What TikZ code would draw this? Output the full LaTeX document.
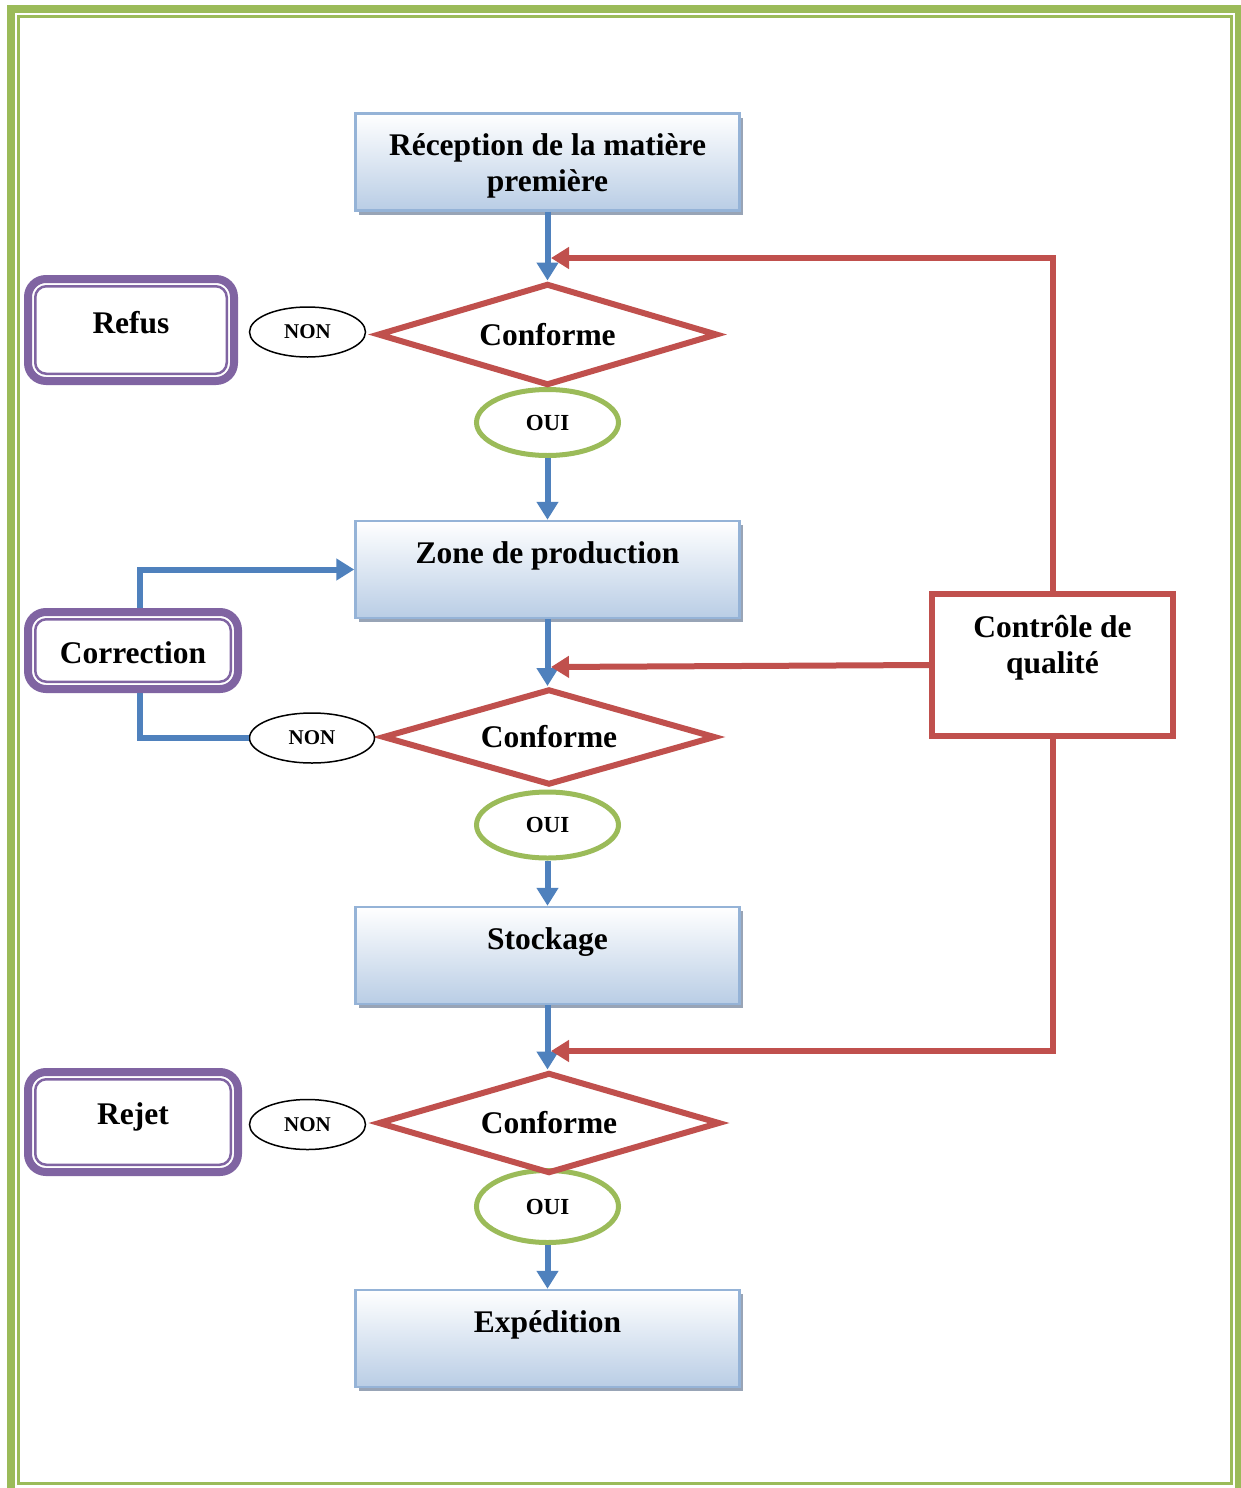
\documentclass[tikz,border=0pt]{standalone}
\usepackage{fontspec}
\setmainfont{Liberation Serif}
\usetikzlibrary{shapes.geometric,arrows.meta,shadows}

\definecolor{frameGreen}{HTML}{9BBB59}
\definecolor{ctrlRed}{HTML}{C0504D}
\definecolor{flowBlue}{HTML}{4F81BD}
\definecolor{exitPurple}{HTML}{8064A2}
\definecolor{boxBorder}{HTML}{95B3D7}
\definecolor{boxFill}{HTML}{B9CDE5}
\definecolor{boxShadow}{HTML}{98A4B6}

\begin{document}
\begin{tikzpicture}[x=1pt,y=-1pt,
  bigtext/.style={font=\fontsize{31.5}{36.5}\selectfont\bfseries, inner sep=0pt},
  procbox/.style={rectangle, draw=boxBorder, line width=2.5pt,
    top color=white, bottom color=boxFill,
    minimum width=384pt, minimum height=97pt, inner sep=0pt,
    general shadow={fill=boxShadow, shadow xshift=3.5pt, shadow yshift=-4pt}},
  decision/.style={diamond, draw=ctrlRed, line width=6pt, aspect=3.5,
    inner sep=0pt, font=\fontsize{31.5}{36.5}\selectfont\bfseries},
  yesnode/.style={ellipse, draw=frameGreen, line width=5pt, fill=white,
    minimum width=142pt, minimum height=66pt, inner sep=0pt,
    font=\fontsize{23}{27}\selectfont\bfseries},
  nonode/.style={ellipse, draw=black, line width=1.5pt, fill=white,
    minimum width=116pt, minimum height=50pt, inner sep=0pt,
    font=\fontsize{21}{25}\selectfont\bfseries},
  exitbox/.style={rectangle, rounded corners=18pt, draw=exitPurple, line width=8pt,
    fill=white, inner sep=0pt},
  exitinner/.style={draw=exitPurple, line width=2.5pt, rounded corners=11pt},
  ctrlbox/.style={rectangle, draw=ctrlRed, line width=6pt, fill=white,
    minimum width=241pt, minimum height=142pt, inner sep=0pt},
  blueflow/.style={draw=flowBlue, line width=6pt,
    -{Triangle[length=18pt,width=21pt]}},
  blueline/.style={draw=flowBlue, line width=6pt},
  redflow/.style={draw=ctrlRed, line width=6pt,
    -{Triangle[length=18pt,width=21pt]}},
]
\clip (0,0) rectangle (1241,1488);
\fill[white] (0,0) rectangle (1241,1488);

% page frame: thick outer rule, thin inner rule
\draw[frameGreen, line width=8pt] (10.5,9) rectangle (1239,1520);
\draw[frameGreen, line width=3pt] (18.5,16.5) rectangle (1231,1483.5);

% main process column
\node[procbox] (rec)   at (547.5,162)    {};
\node[procbox] (zone)  at (547.5,569.5)  {};
\node[procbox] (stock) at (547.5,955.5)  {};
\node[procbox] (exp)   at (547.5,1338.5) {};

\node[bigtext, anchor=base] (recT) at (547.5,155)
  {\begin{tabular}[t]{@{}c@{}}Réception de la matière\\première\end{tabular}};
\node[bigtext, anchor=base] (zoneT)  at (547.5,563.5)  {Zone de production};
\node[bigtext, anchor=base] (stockT) at (547.5,949.5)  {Stockage};
\node[bigtext, anchor=base] (expT)   at (547.5,1332.5) {Expédition};

% yes answers
\node[yesnode] (oui1) at (547.5,422.5)  {OUI};
\node[yesnode] (oui2) at (547.5,825)    {OUI};
\node[yesnode, minimum height=72pt] (oui3) at (547.5,1206.5) {OUI};

% decisions
\node[decision, minimum width=340pt, minimum height=102pt] (d1) at (547.5,334.5) {Conforme};
\node[decision, minimum width=333pt, minimum height=96pt]  (d2) at (549,737)     {Conforme};
\node[decision, minimum width=342pt, minimum height=101pt] (d3) at (549,1123)    {Conforme};

% no answers
\node[nonode] (non1) at (307.5,332)    {NON};
\node[nonode, minimum width=125pt] (non2) at (312,738) {NON};
\node[nonode] (non3) at (307.5,1124.5) {NON};

% exits: thick rounded frame with a thin inner rule
\node[exitbox, minimum width=206pt, minimum height=102pt] (refus) at (131,330)   {};
\node[exitbox, minimum width=210pt, minimum height=77pt]  (corr)  at (133,650.5) {};
\node[exitbox, minimum width=210pt, minimum height=100pt] (rejet) at (133,1122)  {};
\foreach \b in {refus,corr,rejet}
  \draw[exitinner] ([shift={(11.25,11.25)}]\b.north west) rectangle
                   ([shift={(-11.25,-11.25)}]\b.south east);
\node[bigtext, anchor=base] (refusT) at (131,333)  {Refus};
\node[bigtext, anchor=base] (corrT)  at (133,663)  {Correction};
\node[bigtext, anchor=base] (rejetT) at (133,1124) {Rejet};

% quality control
\node[ctrlbox] (cq) at (1052.5,665) {};
\node[bigtext, anchor=base] (cqT) at (1052.5,637)
  {\begin{tabular}[t]{@{}c@{}}Contrôle de\\qualité\end{tabular}};

% main flow
\draw[blueflow] (rec.south)  -- (d1.north);
\draw[blueflow] (oui1.south) -- (zone.north);
\draw[blueflow] (zone.south) -- (zone.south |- d2.north);
\draw[blueflow] (oui2.south) -- (stock.north);
\draw[blueflow] (stock.south) -- (stock.south |- d3.north);
\draw[blueflow] (oui3.south) -- (exp.north);

% correction loop
\draw[blueflow] ([xshift=7pt]corr.north) |- (zone.west);
\draw[blueline] ([xshift=7pt]corr.south) |- (non2.west);

% quality control feeds
\coordinate (q1) at (551,258);
\coordinate (q2) at (551,667);
\coordinate (q3) at (551,1051);
\draw[redflow] (cq.north) |- (q1);
\draw[redflow] (cq.west) -- (q2);
\draw[redflow] (cq.south) |- (q3);
\end{tikzpicture}
\end{document}
